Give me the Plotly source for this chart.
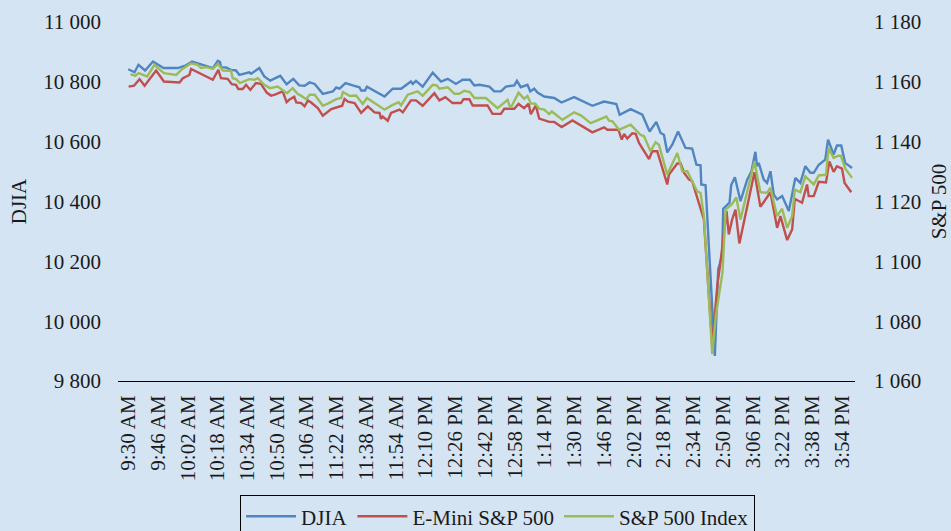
import plotly.graph_objects as go

# ---- data (minutes after 9:30 AM open, index level) ----
djia_min = [0, 3.4, 5.5, 9.1, 13.3, 16.0, 19.0, 26.7, 31.1, 34.4, 38.3, 45.5, 48.2, 49.4, 49.9,
            52.6, 55.3, 58.0, 59.8, 65.1, 66.1, 70.5, 73.2, 76.4, 81.8, 85.2, 88.8, 92.0, 94.9,
            97.6, 100.3, 104.7, 110.1, 111.9, 113.7, 116.9, 120.8, 124.4, 125.3, 127.4, 128.4,
            137.9, 142.3, 146.8, 152.1, 153.1, 154.8, 158.4, 163.8, 168.3, 171.9, 176.3, 179.9,
            183.8, 186.2, 188.9, 194.3, 196.9, 200.5, 203.2, 207.7, 209.1, 211.2, 213.9, 214.8,
            216.3, 218.4, 220.2, 223.8, 229.2, 233.1, 239.9, 249.7, 256.0, 262.6, 264.4, 270.3,
            276.6, 280.5, 284.1, 286.4, 288.2, 290.0, 292.7, 295.8, 299.8, 303.4, 305.7, 307.9,
            308.3, 310.6, 315.6, 317.4, 319.5, 320.1, 323.5, 324.4, 326.4, 329.4, 333.0, 335.3,
            337.4, 338.3, 339.2, 341.9, 343.7, 345.5, 347.3, 349.1, 351.8, 355.4, 358.9, 361.6,
            364.3, 367.0, 368.8, 371.5, 375.0, 376.5, 379.5, 381.3, 383.6, 385.7, 389.4]
djia_val = [10842, 10832, 10857, 10838, 10868, 10857, 10846, 10846, 10855, 10868, 10860, 10846,
            10870, 10866, 10849, 10848, 10840, 10838, 10823, 10832, 10827, 10846, 10818, 10804,
            10820, 10792, 10810, 10788, 10787, 10798, 10793, 10760, 10768, 10781, 10777, 10796,
            10788, 10782, 10771, 10771, 10784, 10751, 10777, 10777, 10801, 10793, 10803, 10784,
            10831, 10801, 10810, 10793, 10807, 10807, 10788, 10790, 10784, 10768, 10768, 10784,
            10788, 10803, 10782, 10788, 10790, 10768, 10777, 10764, 10751, 10746, 10731, 10749,
            10720, 10734, 10726, 10690, 10709, 10690, 10634, 10666, 10629, 10623, 10564, 10590,
            10634, 10579, 10577, 10523, 10521, 10457, 10454, 9884, 10173, 10218, 10376, 10396,
            10455, 10481, 10401, 10473, 10501, 10566, 10518, 10529, 10473, 10462, 10501, 10423,
            10407, 10418, 10368, 10479, 10462, 10518, 10496, 10496, 10523, 10540, 10607, 10557,
            10587, 10587, 10529, 10512]

emini_min = [0.2, 3.1, 6.1, 8.8, 15.0, 19.2, 27.6, 29.4, 32.9, 33.8, 45.5, 48.5, 49.9, 53.5,
             55.7, 58.0, 59.2, 61.6, 63.4, 65.7, 68.7, 71.4, 74.5, 76.8, 78.9, 83.1, 85.2, 86.6,
             89.3, 90.4, 93.1, 94.9, 96.7, 98.4, 102.0, 104.7, 109.2, 112.8, 115.1, 116.4, 118.2,
             121.8, 125.3, 128.9, 132.5, 135.2, 136.0, 136.9, 139.6, 141.4, 144.1, 145.9, 147.7,
             152.1, 154.8, 158.4, 164.7, 167.4, 170.6, 174.5, 179.0, 180.4, 183.5, 185.3, 193.3,
             196.0, 200.5, 202.3, 207.7, 210.0, 213.0, 215.4, 216.6, 219.3, 221.1, 226.5, 229.2,
             233.2, 239.0, 249.7, 256.0, 257.8, 263.7, 265.5, 266.8, 268.5, 271.2, 273.0, 274.8,
             276.6, 280.2, 281.9, 284.6, 290.0, 290.9, 295.4, 297.2, 299.0, 301.7, 303.4, 306.1,
             309.7, 314.2, 316.9, 318.6, 321.9, 323.1, 324.9, 326.7, 328.8, 336.9, 340.1, 345.5,
             349.1, 350.9, 354.5, 357.2, 358.6, 362.5, 365.2, 366.1, 368.8, 371.5, 375.4, 377.2,
             379.5, 381.3, 384.0, 385.4, 389.0]
emini_val = [1158.4, 1158.7, 1160.9, 1158.7, 1163.8, 1160.1, 1159.8, 1161.2, 1162.3, 1164.3,
             1160.7, 1164.0, 1161.2, 1161.0, 1159.2, 1159.0, 1157.6, 1157.6, 1159.0, 1157.3,
             1159.6, 1159.3, 1156.4, 1155.4, 1155.7, 1156.8, 1153.2, 1154.0, 1155.0, 1153.1,
             1152.9, 1151.8, 1153.8, 1153.1, 1151.2, 1148.7, 1150.9, 1151.6, 1152.0, 1154.3,
             1153.4, 1152.9, 1149.6, 1151.8, 1149.8, 1149.6, 1147.6, 1148.4, 1147.0, 1149.6,
             1150.4, 1150.7, 1149.8, 1153.8, 1153.8, 1152.0, 1156.2, 1153.8, 1154.9, 1152.9,
             1152.9, 1154.2, 1154.2, 1152.1, 1152.1, 1149.3, 1149.3, 1151.0, 1151.0, 1152.6,
             1151.2, 1152.7, 1149.2, 1152.1, 1147.7, 1146.6, 1146.6, 1144.9, 1147.1, 1143.1,
             1144.8, 1144.0, 1144.0, 1140.7, 1142.6, 1141.0, 1142.8, 1142.6, 1139.6, 1137.7,
             1134.2, 1136.8, 1136.8, 1125.7, 1129.0, 1132.7, 1132.7, 1129.6, 1127.3, 1126.8,
             1121.2, 1114.0, 1071.8, 1091.8, 1099.6, 1116.8, 1109.0, 1114.0, 1117.3, 1106.0,
             1129.8, 1118.2, 1123.1, 1111.2, 1115.1, 1107.1, 1110.7, 1120.9, 1119.6, 1125.7,
             1121.8, 1121.8, 1126.6, 1126.4, 1133.4, 1129.9, 1131.8, 1131.0, 1126.2, 1123.1]

spx_min = [1.2, 3.8, 5.5, 10.2, 14.1, 19.2, 25.8, 28.5, 33.8, 37.4, 39.2, 41.9, 45.5, 48.2, 50.9,
           55.3, 56.2, 58.0, 60.1, 63.4, 65.1, 67.8, 69.7, 73.2, 76.3, 80.4, 85.4, 88.5, 91.1,
           93.1, 95.8, 97.6, 100.3, 104.7, 107.4, 111.9, 114.6, 115.5, 119.1, 122.6, 126.2,
           128.4, 133.4, 137.9, 142.3, 145.5, 146.8, 150.4, 155.7, 158.4, 163.8, 166.0, 167.4,
           171.9, 175.5, 178.1, 180.8, 183.8, 186.2, 192.4, 198.7, 204.1, 205.0, 205.9, 210.0,
           213.0, 214.8, 216.6, 219.0, 221.1, 223.8, 226.5, 227.9, 233.6, 239.9, 243.5, 248.8,
           257.2, 258.7, 260.5, 264.1, 270.3, 271.2, 275.6, 277.5, 281.0, 283.7, 285.5, 290.0,
           295.4, 298.1, 300.8, 303.4, 306.1, 307.9, 309.7, 314.2, 316.1, 319.7, 321.4, 324.9,
           327.1, 329.4, 336.9, 340.1, 343.7, 345.5, 349.1, 351.8, 354.5, 357.2, 358.6, 361.6,
           364.3, 368.8, 371.5, 375.4, 376.8, 379.5, 382.0, 383.4, 385.9, 389.4]
spx_val = [1162.6, 1162.0, 1162.9, 1161.8, 1165.7, 1162.9, 1162.3, 1164.0, 1166.2, 1165.7,
           1164.6, 1164.9, 1164.3, 1166.0, 1163.8, 1163.7, 1161.2, 1160.9, 1159.6, 1160.4,
           1160.9, 1160.7, 1161.2, 1159.0, 1157.9, 1158.4, 1156.2, 1157.9, 1156.0, 1155.3,
           1154.2, 1155.7, 1155.7, 1152.0, 1152.7, 1154.2, 1154.6, 1156.6, 1155.3, 1155.4,
           1152.6, 1154.6, 1152.6, 1150.7, 1152.3, 1153.2, 1152.1, 1155.7, 1156.8, 1155.3,
           1159.0, 1158.8, 1157.7, 1158.2, 1156.0, 1156.0, 1157.0, 1156.6, 1154.6, 1154.6,
           1151.2, 1154.0, 1152.3, 1151.4, 1156.4, 1154.3, 1155.3, 1152.7, 1152.7, 1151.0,
           1150.7, 1149.2, 1150.1, 1147.3, 1149.8, 1148.8, 1146.2, 1148.4, 1147.0, 1146.8,
           1144.0, 1145.7, 1145.1, 1142.3, 1141.8, 1136.8, 1139.8, 1139.0, 1129.0, 1136.2,
           1130.1, 1130.1, 1126.8, 1123.4, 1122.9, 1115.1, 1069.0, 1081.8, 1096.2, 1117.3,
           1119.2, 1121.4, 1114.0, 1133.4, 1123.1, 1122.9, 1124.6, 1115.1, 1117.6, 1111.2,
           1115.1, 1124.0, 1123.1, 1128.4, 1125.7, 1128.7, 1129.0, 1137.9, 1134.6, 1135.3,
           1135.3, 1130.9, 1127.9]

tick_minutes = list(range(0, 385, 16))
tick_labels = ["9:30 AM", "9:46 AM", "10:02 AM", "10:18 AM", "10:34 AM", "10:50 AM",
               "11:06 AM", "11:22 AM", "11:38 AM", "11:54 AM", "12:10 PM", "12:26 PM",
               "12:42 PM", "12:58 PM", "1:14 PM", "1:30 PM", "1:46 PM", "2:02 PM",
               "2:18 PM", "2:34 PM", "2:50 PM", "3:06 PM", "3:22 PM", "3:38 PM", "3:54 PM"]
djia_ticks = [9800, 10000, 10200, 10400, 10600, 10800, 11000]
spx_ticks = [1060, 1080, 1100, 1120, 1140, 1160, 1180]

BG = "#d5e4f3"
FONT = "Liberation Serif"
TXT = "#1a1a1a"

def fmt(v):
    return f"{v:,}".replace(",", " ")

fig = go.Figure()
fig.add_trace(go.Scatter(x=djia_min, y=djia_val, name="DJIA", mode="lines",
                         line=dict(color="#5085c0", width=2.4), yaxis="y"))
fig.add_trace(go.Scatter(x=emini_min, y=emini_val, name="E-Mini S&P 500", mode="lines",
                         line=dict(color="#c0504d", width=2.4), yaxis="y2"))
fig.add_trace(go.Scatter(x=spx_min, y=spx_val, name="S&P 500 Index", mode="lines",
                         line=dict(color="#9bbb59", width=2.4), yaxis="y2"))

fig.update_layout(
    width=951, height=531,
    margin=dict(l=118, r=96, t=22, b=150, autoexpand=False),
    paper_bgcolor=BG, plot_bgcolor=BG,
    font=dict(family=FONT, size=21, color=TXT),
    showlegend=True,
    legend=dict(orientation="h", x=0.515, xanchor="center", y=-0.318, yanchor="top",
                bordercolor="#000000", borderwidth=1, bgcolor=BG,
                font=dict(family=FONT, size=21, color=TXT), itemwidth=50),
    xaxis=dict(range=[-5.5, 391], tickvals=tick_minutes, ticktext=tick_labels,
               tickangle=-90, showgrid=False, zeroline=False,
               showline=True, linecolor="#000000", linewidth=1,
               ticks="", ticklabelstandoff=5, tickfont=dict(family=FONT, size=21, color=TXT)),
    yaxis=dict(range=[9800, 11000], tickvals=djia_ticks,
               ticktext=[fmt(v) for v in djia_ticks], showgrid=False, zeroline=False,
               showline=False, ticks="", ticklabelstandoff=16,
               tickfont=dict(family=FONT, size=21, color=TXT),
               title=dict(text="DJIA", standoff=10, font=dict(family=FONT, size=21, color=TXT))),
    yaxis2=dict(range=[1060, 1180], tickvals=spx_ticks,
                ticktext=[fmt(v) for v in spx_ticks], overlaying="y", side="right",
                showgrid=False, zeroline=False, showline=False, ticks="",
                ticklabelstandoff=18, tickfont=dict(family=FONT, size=21, color=TXT),
                title=dict(text="S&P 500", standoff=14, font=dict(family=FONT, size=21, color=TXT))),
)

fig.write_html(
    "out.html",
    config={"displayModeBar": False},
    post_script="document.body.style.margin='0';document.body.style.overflow='hidden';"
                "document.body.style.background='" + BG + "';",
)
